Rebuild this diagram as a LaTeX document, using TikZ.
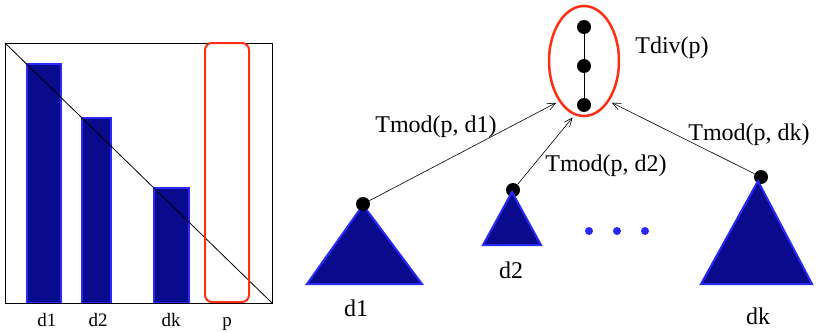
\documentclass[tikz,border=0pt]{standalone}
\usepackage{fontspec}
\setmainfont{Liberation Serif}
\usetikzlibrary{positioning, arrows.meta, shapes}
\definecolor{NavyFill}{RGB}{10, 10, 140}
\definecolor{BlueEdge}{RGB}{40, 40, 255}
\definecolor{RedRing}{RGB}{255, 45, 20}

\begin{document}
\begin{tikzpicture}[x=1pt, y=-1pt,
  bar/.style={fill=NavyFill, draw=BlueEdge, line width=1.5pt},
  tree/.style={fill=NavyFill, draw=BlueEdge, line width=2pt},
  dot/.style={circle, fill=black, inner sep=0pt, minimum size=14pt},
  smalllbl/.style={anchor=base, inner sep=0pt, font=\fontsize{19}{21}\selectfont},
  biglbl/.style={anchor=base, inner sep=0pt, font=\fontsize{24}{28}\selectfont},
  modarrow/.style={-{Straight Barb[length=8pt, width=7pt]}, line width=0.6pt, shorten >=3pt}]
\useasboundingbox (0,0) rectangle (817,332);
% left part
\draw[bar] (27,64) rectangle (61,303);
\draw[bar] (82,118) rectangle (111,303);
\draw[bar] (154,188) rectangle (189,303);
\draw[line width=0.8pt] (5,43) rectangle (272,303);
\draw[line width=0.8pt] (5,43) -- (272,303);
\draw[RedRing, line width=2pt, rounded corners=7pt] (205,43) rectangle (249,302);
\node[smalllbl] (colA) at (47,326) {d1};
\node[smalllbl] (colB) at (98,326) {d2};
\node[smalllbl] (colK) at (171,326) {dk};
\node[smalllbl] (colP) at (227,326) {p};
% right part
\node[ellipse, draw=RedRing, line width=2.5pt, minimum width=70pt, minimum height=110pt] (div) at (584,61) {};
\node[dot] (t1) at (584,27) {};
\node[dot] (t2) at (584,66) {};
\node[dot] (t3) at (584,105) {};
\draw[line width=1pt] (t1) -- (t2) -- (t3);
\node[biglbl] (tdiv) at (672,53) {Tdiv(p)};
\node[dot] (r2) at (513,190) {};
\node[dot] (rk) at (761,177) {};
\filldraw[tree] (363,205) -- (422,284) -- (307,284) -- cycle;
\filldraw[tree] (512,192) -- (541,245) -- (483,245) -- cycle;
\filldraw[tree] (758,181) -- (812,284) -- (701,284) -- cycle;
\node[dot] (r1) at (363,204) {};
\foreach \x in {589,617,645}
  \fill[BlueEdge] (\x,231) circle (4pt);
\node[biglbl] (nameA) at (356,316) {d1};
\node[biglbl] (nameB) at (511,278) {d2};
\node[biglbl] (nameK) at (758,324) {dk};
\draw[modarrow] (r1) -- (div.-122);
\draw[modarrow] (r2) -- (div.-100);
\draw[modarrow] (rk) -- (div.-58);
\node[biglbl] (modA) at (436,132) {Tmod(p, d1)};
\node[biglbl] (modB) at (606,171) {Tmod(p, d2)};
\node[biglbl] (modK) at (749,140) {Tmod(p, dk)};
\end{tikzpicture}
\end{document}
